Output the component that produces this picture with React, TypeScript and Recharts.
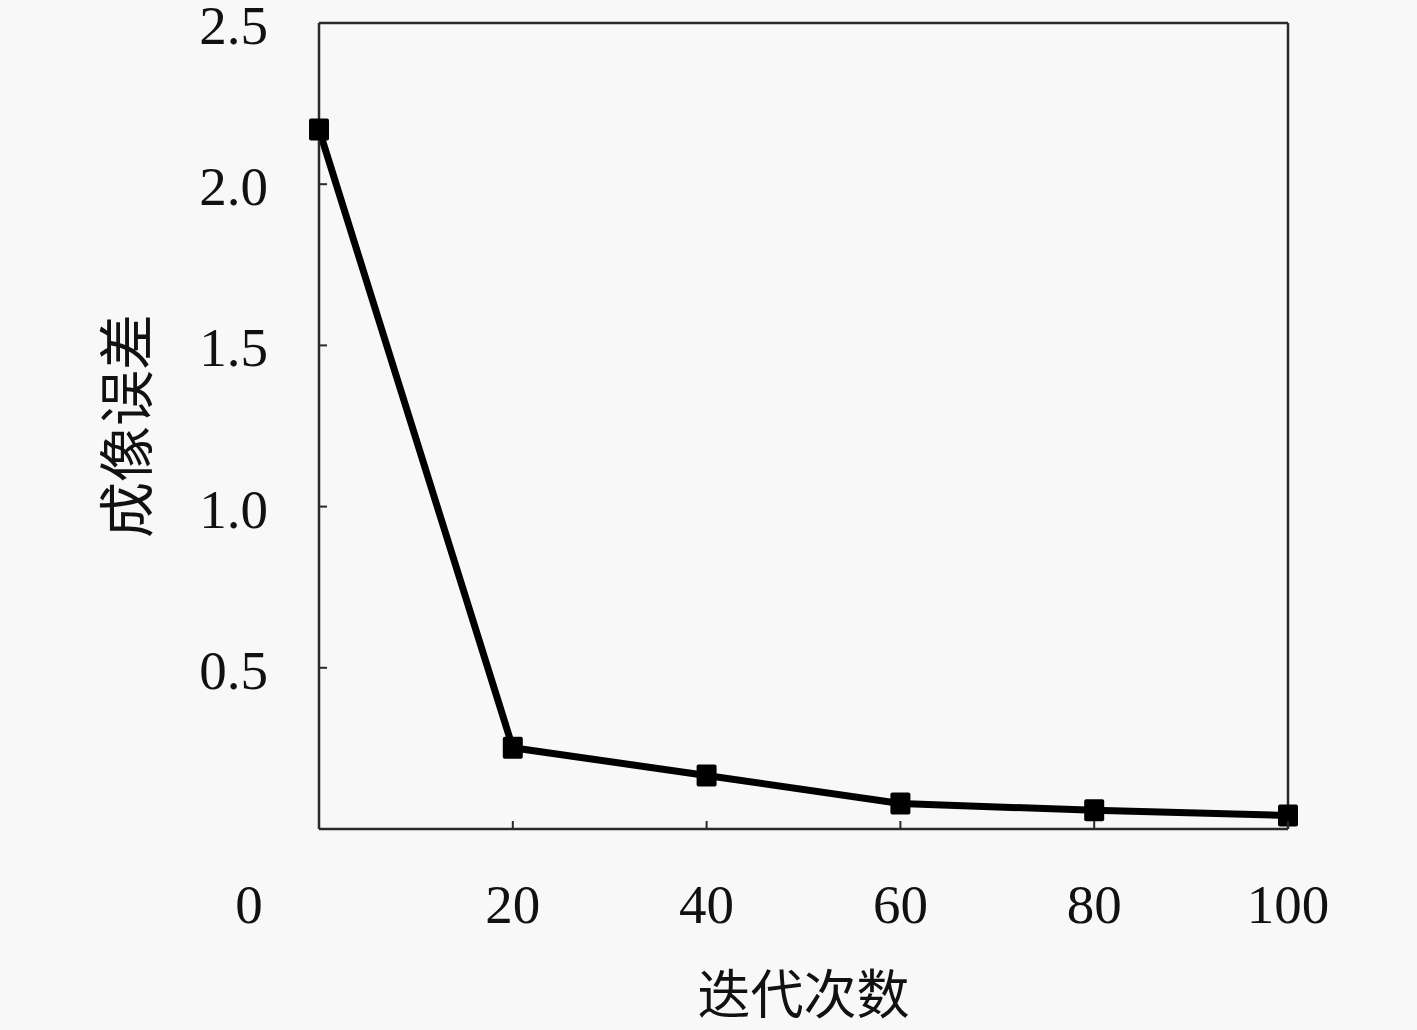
import React from 'react';
import { LineChart, Line, XAxis, YAxis } from 'recharts';

const iterations = [0, 20, 40, 60, 80, 100];
const errors = [2.17, 0.252, 0.166, 0.079, 0.058, 0.042];
const xTicks = [0, 20, 40, 60, 80, 100];
const yTicks = [0.5, 1.0, 1.5, 2.0, 2.5];
const xTitle = '迭代次数';
const yTitle = '成像误差';

const data = iterations.map((it, i) => ({ it, err: errors[i] }));

const NUM_FONT = '"Liberation Serif", "DejaVu Serif", serif';
const CJK_FONT = '"Noto Sans CJK SC", sans-serif';
const AXIS_COLOR = '#2a2a2a';

const LeftTick = (props: any) => {
  const { x, y, payload } = props;
  return (
    <g>
      <line x1={x} x2={x + 8} y1={y} y2={y} stroke={AXIS_COLOR} strokeWidth={2} />
      <text x={x - 51} y={y + 21} textAnchor="end" fontFamily={NUM_FONT} fontSize={55} fill="#111">
        {Number(payload.value).toFixed(1)}
      </text>
    </g>
  );
};

const RightTick = (props: any) => {
  const { x, y } = props;
  return <line x1={x} x2={x - 8} y1={y} y2={y} stroke={AXIS_COLOR} strokeWidth={2} />;
};

const BottomTick = (props: any) => {
  const { x, y, payload } = props;
  const isZero = payload.value === 0;
  return (
    <g>
      {!isZero && <line x1={x} x2={x} y1={y} y2={y - 8} stroke={AXIS_COLOR} strokeWidth={2} />}
      <text x={isZero ? x - 70 : x} y={y + 94} textAnchor="middle" fontFamily={NUM_FONT} fontSize={55} fill="#111">
        {payload.value}
      </text>
    </g>
  );
};

const SquareDot = (props: any) => {
  const { cx, cy, index } = props;
  if (cx == null || cy == null) return <g key={`d${index}`} />;
  return <rect key={`d${index}`} x={cx - 10} y={cy - 11} width={20} height={22} rx={2} fill="#000" />;
};

const YTitle = (props: any) => {
  const vb = props.viewBox || {};
  const cx = 122;
  const cy = vb.y + vb.height / 2;
  return (
    <text x={cx} y={cy} transform={`rotate(-90, ${cx}, ${cy})`} textAnchor="middle" dominantBaseline="central"
      fontFamily={CJK_FONT} fontSize={56} fill="#111">
      {yTitle}
    </text>
  );
};

const XTitle = (props: any) => {
  const vb = props.viewBox || {};
  const cx = vb.x + vb.width / 2;
  const cy = 991;
  return (
    <text x={cx} y={cy} textAnchor="middle" dominantBaseline="central" fontFamily={CJK_FONT} fontSize={53} fill="#111">
      {xTitle}
    </text>
  );
};

export default function App() {
  return (
    <div style={{ position: 'absolute', left: 0, top: 0, width: 1417, height: 1030, background: '#f8f8f8' }}>
      <LineChart width={1417} height={1030} data={data} margin={{ top: 22, right: 128, bottom: 0, left: 318 }}>
        <XAxis
          xAxisId="bottom"
          dataKey="it"
          type="number"
          domain={[0, 100]}
          ticks={xTicks}
          height={201}
          tickSize={0}
          tickMargin={0}
          tickLine={false}
          axisLine={{ stroke: AXIS_COLOR, strokeWidth: 2.5 }}
          tick={<BottomTick />}
          interval={0}
          label={<XTitle />}
        />
        <XAxis
          xAxisId="top"
          orientation="top"
          dataKey="it"
          type="number"
          domain={[0, 100]}
          height={1}
          tick={false}
          tickLine={false}
          axisLine={{ stroke: AXIS_COLOR, strokeWidth: 2.5 }}
        />
        <YAxis
          yAxisId="left"
          type="number"
          domain={[0, 2.5]}
          ticks={yTicks}
          width={1}
          tickSize={0}
          tickMargin={0}
          tickLine={false}
          axisLine={{ stroke: AXIS_COLOR, strokeWidth: 2.5 }}
          tick={<LeftTick />}
          interval={0}
          label={<YTitle />}
        />
        <YAxis
          yAxisId="right"
          orientation="right"
          type="number"
          domain={[0, 2.5]}
          ticks={yTicks}
          width={1}
          tickSize={0}
          tickMargin={0}
          tickLine={false}
          axisLine={{ stroke: AXIS_COLOR, strokeWidth: 2.5 }}
          tick={<RightTick />}
          interval={0}
        />
        <Line
          xAxisId="bottom"
          yAxisId="left"
          type="linear"
          dataKey="err"
          stroke="#000"
          strokeWidth={7}
          dot={SquareDot}
          activeDot={false}
          isAnimationActive={false}
        />
      </LineChart>
    </div>
  );
}
